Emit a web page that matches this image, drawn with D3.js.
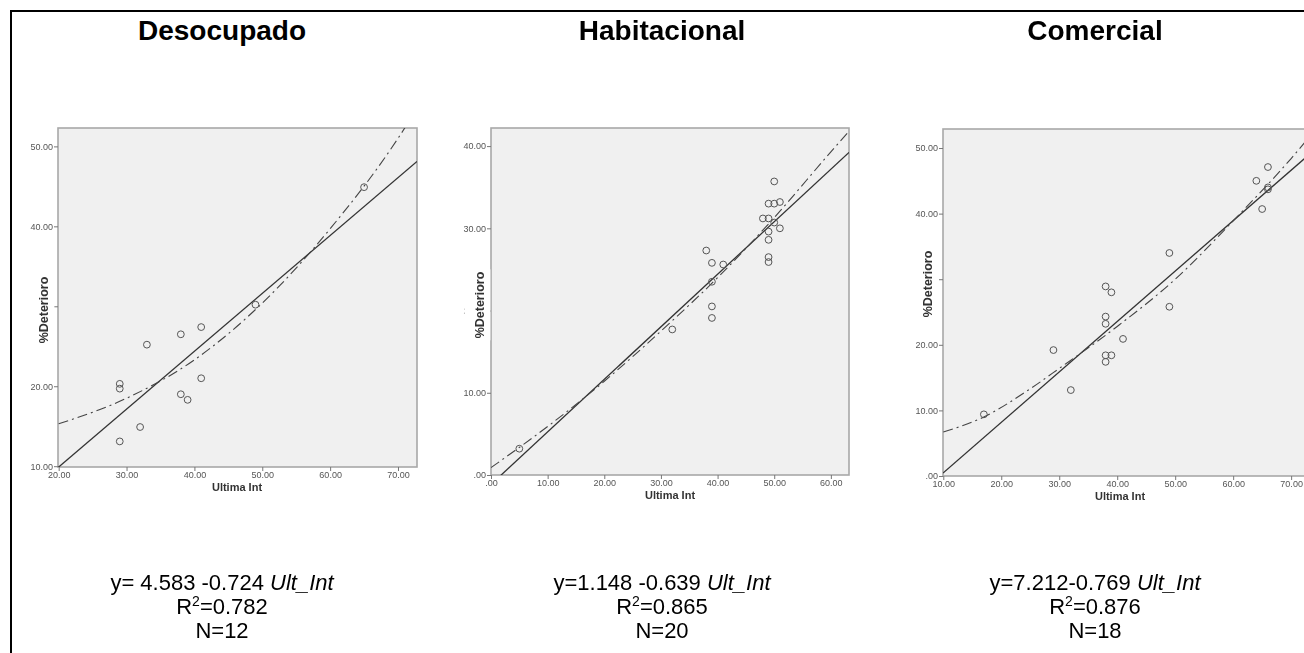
<!DOCTYPE html>
<meta charset="utf-8">
<style>
    body { margin: 0; background: #fff; }
    svg { display: block; font-family: Arial, "Liberation Sans", sans-serif; }
</style>
<body>
<div class="container"></div>
<script src="https://cdnjs.cloudflare.com/ajax/libs/d3/7.8.5/d3.min.js"></script>
<script>

// panel titles
const titles = ['Desocupado', 'Habitacional', 'Comercial'];

// Desocupado
const ultInt1 = [29, 29, 29, 32, 33, 38, 38, 39, 41, 41, 49, 65];
const deter1  = [13.1, 20.3, 19.7, 14.9, 25.2, 26.5, 19.0, 18.3, 27.4, 21.0, 30.2, 44.9];
// Habitacional
const ultInt2 = [5, 32, 38, 39, 39, 39, 39, 41, 49, 50, 51, 50, 48, 49, 50, 51, 49, 49, 49, 49];
const deter2  = [3.2, 17.7, 27.3, 25.8, 23.5, 20.5, 19.1, 25.6, 33.0, 33.0, 33.2, 35.7, 31.2, 31.2, 30.7, 30.0, 29.6, 28.6, 26.5, 25.9];
// Comercial
const ultInt3 = [17, 29, 32, 38, 39, 38, 38, 38, 38, 39, 41, 49, 49, 64, 65, 66, 66, 66];
const deter3  = [9.4, 19.2, 13.1, 28.9, 28.0, 24.3, 23.2, 18.4, 17.4, 18.4, 20.9, 34.0, 25.8, 45.0, 40.7, 47.1, 44.0, 43.7];

// linear fit
const fitIntercept = [-4.583, -1.148, -7.212];
const fitSlope     = [0.724, 0.639, 0.769];

// dash-dot fit curve
const curveX1 = [20, 30, 40, 50, 60, 70, 73];
const curveY1 = [15.3, 18.5, 23.3, 30.4, 39.7, 51.0, 55.0];
const curveX2 = [0, 10, 20, 30, 40, 50, 60, 63.2];
const curveY2 = [0.9, 5.9, 11.4, 17.5, 24.0, 31.3, 39.3, 41.8];
const curveX3 = [10, 17, 25, 30, 40, 50, 60, 70, 74];
const curveY3 = [6.7, 9.0, 13.3, 16.4, 22.8, 30.0, 38.9, 48.4, 52.6];

// tick values
const xTicks = [[20, 30, 40, 50, 60, 70], [0, 10, 20, 30, 40, 50, 60], [10, 20, 30, 40, 50, 60, 70]];
const yTicks = [[10, 20, 30, 40, 50], [0, 10, 20, 30, 40], [0, 10, 20, 30, 40, 50]];

// texts under each chart
const eqText  = ['y= 4.583 -0.724 ', 'y=1.148 -0.639 ', 'y=7.212-0.769 '];
const r2Text  = ['0.782', '0.865', '0.876'];
const nText   = ['12', '20', '18'];

const xs = [ultInt1, ultInt2, ultInt3];
const ys = [deter1, deter2, deter3];
const cxs = [curveX1, curveX2, curveX3];
const cys = [curveY1, curveY2, curveY3];

// pixel layout of each panel
const layout = [
    { left: 58,  right: 417,  top: 128, bottom: 467, xDom: [19.9, 72.8], yDom: [9.9, 52.3], cx: 222,  xtx: 237,  ytx: 44,  yty: 310 },
    { left: 491, right: 849,  top: 128, bottom: 475, xDom: [0, 63.2],    yDom: [0, 42.2],   cx: 662,  xtx: 670,  ytx: 480, yty: 305 },
    { left: 943, right: 1312, top: 129, bottom: 476, xDom: [9.95, 73.6], yDom: [0, 52.9],   cx: 1095, xtx: 1120, ytx: 928, yty: 284 }
];

const width = 1304, height = 653;

const svg = d3.select('.container')
    .append('svg')
    .attr('width', width)
    .attr('height', height);

const defs = svg.append('defs');
defs.append('filter').attr('id', 'soft')
    .append('feGaussianBlur').attr('stdDeviation', 0.35);

// outer table border
svg.append('line').attr('x1', 10).attr('x2', width).attr('y1', 11).attr('y2', 11)
    .attr('stroke', '#000').attr('stroke-width', 2);
svg.append('line').attr('x1', 11).attr('x2', 11).attr('y1', 10).attr('y2', height)
    .attr('stroke', '#000').attr('stroke-width', 2);

const fmt = d => d3.format('.2f')(d).replace(/^0\./, '.');

titles.forEach((t, i) => {
    const L = layout[i];
    const x = d3.scaleLinear().domain(L.xDom).range([L.left, L.right]);
    const y = d3.scaleLinear().domain(L.yDom).range([L.bottom, L.top]);

    svg.append('text')
        .attr('x', L.cx).attr('y', 40)
        .attr('text-anchor', 'middle')
        .style('font-size', '28px').style('font-weight', 'bold')
        .text(t);

    const g = svg.append('g').attr('filter', 'url(#soft)');

    defs.append('clipPath').attr('id', 'clip' + i)
        .append('rect')
        .attr('x', L.left).attr('y', L.top)
        .attr('width', L.right - L.left).attr('height', L.bottom - L.top);

    g.append('rect')
        .attr('x', L.left).attr('y', L.top)
        .attr('width', L.right - L.left).attr('height', L.bottom - L.top)
        .attr('fill', '#f0f0f0')
        .attr('stroke', '#a8a8a8').attr('stroke-width', 1.6);

    const yAxis = g.append('g')
        .attr('transform', `translate(${L.left},0)`)
        .call(d3.axisLeft(y).tickValues(yTicks[i]).tickSize(4).tickPadding(1).tickFormat(fmt));
    const xAxis = g.append('g')
        .attr('transform', `translate(0,${L.bottom})`)
        .call(d3.axisBottom(x).tickValues(xTicks[i]).tickSize(4).tickPadding(1).tickFormat(fmt));
    [yAxis, xAxis].forEach(a => {
        a.select('.domain').remove();
        a.selectAll('line').attr('stroke', '#777');
        a.selectAll('text').attr('fill', '#555').style('font-size', '9px').style('font-family', 'Arial, "Liberation Sans", sans-serif');
    });

    const plot = g.append('g').attr('clip-path', `url(#clip${i})`);

    // linear fit
    plot.append('line')
        .attr('x1', x(L.xDom[0])).attr('y1', y(fitIntercept[i] + fitSlope[i] * L.xDom[0]))
        .attr('x2', x(L.xDom[1])).attr('y2', y(fitIntercept[i] + fitSlope[i] * L.xDom[1]))
        .attr('stroke', '#333').attr('stroke-width', 1.3);

    // dash-dot fit curve
    const line = d3.line().x(d => x(d[0])).y(d => y(d[1])).curve(d3.curveMonotoneX);
    plot.append('path')
        .datum(d3.zip(cxs[i], cys[i]))
        .attr('d', line)
        .attr('fill', 'none')
        .attr('stroke', '#444').attr('stroke-width', 1.1)
        .attr('stroke-dasharray', '10,4,2,4');

    plot.selectAll('circle.pt')
        .data(d3.zip(xs[i], ys[i]))
        .enter()
        .append('circle')
        .attr('class', 'pt')
        .attr('cx', d => x(d[0])).attr('cy', d => y(d[1]))
        .attr('r', 3.4)
        .attr('fill', 'none')
        .attr('stroke', '#555').attr('stroke-width', 1);

    // axis titles
    g.append('text')
        .attr('x', L.xtx).attr('y', L.bottom + 24)
        .attr('text-anchor', 'middle')
        .style('font-size', '11px').style('font-weight', 'bold').attr('fill', '#333')
        .text('Ultima Int');

    const yt = g.append('text')
        .attr('transform', `translate(${L.ytx},${L.yty}) rotate(-90)`)
        .attr('text-anchor', 'middle')
        .attr('dy', '0.35em')
        .style('font-size', '12.5px').style('font-weight', 'bold').attr('fill', '#333')
        .text('%Deterioro');
    // white box behind the title hides the tick label it sits on, as in the original
    const bb = yt.node().getBBox();
    g.insert('rect', () => yt.node())
        .attr('transform', `translate(${L.ytx},${L.yty}) rotate(-90)`)
        .attr('x', bb.x - 2).attr('y', bb.y - 9)
        .attr('width', bb.width + 4).attr('height', bb.height + 12)
        .attr('fill', '#fff');

    // equation, R² and N
    const eq = svg.append('text')
        .attr('x', L.cx).attr('y', 590)
        .attr('text-anchor', 'middle')
        .style('font-size', '22px');
    eq.append('tspan').text(eqText[i]);
    eq.append('tspan').style('font-style', 'italic').text('Ult_Int');

    const r2 = svg.append('text')
        .attr('x', L.cx).attr('y', 614)
        .attr('text-anchor', 'middle')
        .style('font-size', '22px');
    r2.append('tspan').text('R');
    r2.append('tspan').attr('dy', -8).style('font-size', '14px').text('2');
    r2.append('tspan').attr('dy', 8).text('=' + r2Text[i]);

    svg.append('text')
        .attr('x', L.cx).attr('y', 638)
        .attr('text-anchor', 'middle')
        .style('font-size', '22px')
        .text('N=' + nText[i]);
});

</script>
</body>
